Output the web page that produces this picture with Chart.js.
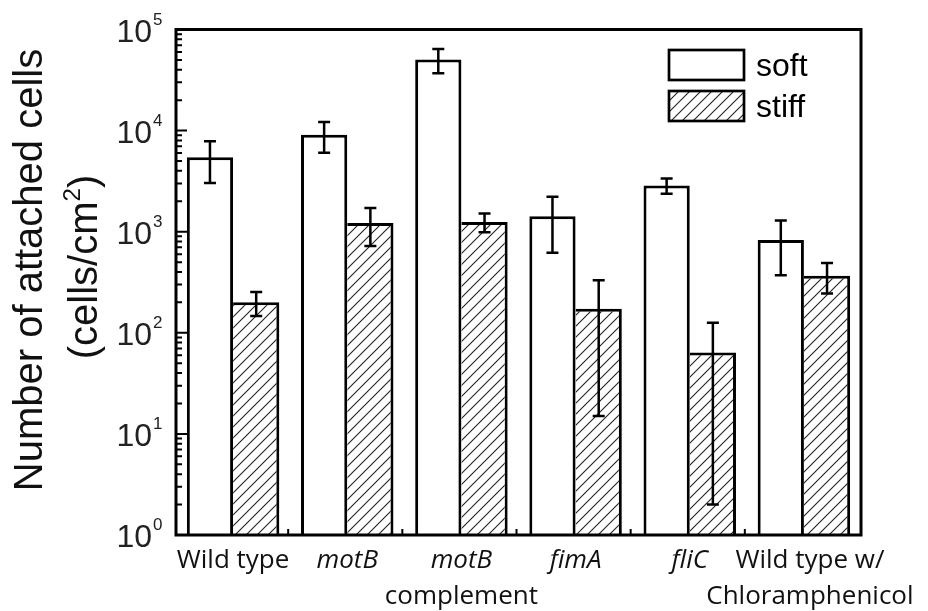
<!DOCTYPE html>
<html>
<head>
<meta charset="utf-8">
<script src="https://cdn.jsdelivr.net/npm/chart.js@4.4.1/dist/chart.umd.min.js"></script>
<style>
  body { margin: 0; background: #fff; }
  #wrap { width: 928px; height: 611px; }
</style>
</head>
<body>
<div id="wrap"><canvas id="chart" width="928" height="611"></canvas></div>
<script>
// values (cells/cm2)
const categories = [['Wild type'], ['motB'], ['motB', 'complement'], ['fimA'], ['fliC'], ['Wild type w/', 'Chloramphenicol']];
const italicNames = ['motB', 'fimA', 'fliC'];
const softValues = [5440, 9100, 50500, 1420, 2870, 830];
const softErrors = [2400, 3050, 13600, 800, 490, 460];
const stiffValues = [200, 1220, 1250, 173, 64, 367];
const stiffErrors = [53, 500, 260, 158, 62, 122];
const yExponents = [0, 1, 2, 3, 4, 5];
const seriesNames = ['soft', 'stiff'];

const SANS = '"Liberation Sans", Arial, sans-serif';
const LABEL_FONT = '"Open Sans", "Noto Sans", sans-serif';

// diagonal hatch for the stiff bars
function makeHatch() {
  const s = 11;
  const c = document.createElement('canvas');
  c.width = s; c.height = s;
  const g = c.getContext('2d');
  g.fillStyle = '#fff';
  g.fillRect(0, 0, s, s);
  g.strokeStyle = '#222';
  g.lineWidth = 1.1;
  g.beginPath();
  g.moveTo(0, s); g.lineTo(s, 0);
  g.moveTo(-1, 1); g.lineTo(1, -1);
  g.moveTo(s - 1, s + 1); g.lineTo(s + 1, s - 1);
  g.stroke();
  return document.getElementById('chart').getContext('2d').createPattern(c, 'repeat');
}
const hatch = makeHatch();

// error bars on top of each bar
const errorBars = {
  id: 'errorBars',
  afterDatasetsDraw(chart) {
    const ctx = chart.ctx;
    const y = chart.scales.y;
    ctx.save();
    ctx.strokeStyle = '#000';
    ctx.lineWidth = 2.5;
    chart.data.datasets.forEach((ds, di) => {
      const meta = chart.getDatasetMeta(di);
      meta.data.forEach((bar, i) => {
        const v = ds.data[i], e = ds.errors[i];
        const top = y.getPixelForValue(v + e);
        const bot = y.getPixelForValue(Math.max(v - e, 1));
        const x = bar.x, cap = 6;
        ctx.beginPath();
        ctx.moveTo(x, top); ctx.lineTo(x, bot);
        ctx.moveTo(x - cap, top); ctx.lineTo(x + cap, top);
        ctx.moveTo(x - cap, bot); ctx.lineTo(x + cap, bot);
        ctx.stroke();
      });
    });
    ctx.restore();
  }
};

// frame, ticks, labels, legend, axis title
const decorations = {
  id: 'decorations',
  afterDraw(chart) {
    const ctx = chart.ctx;
    const a = chart.chartArea;
    const xs = chart.scales.x, ys = chart.scales.y;
    ctx.save();
    ctx.strokeStyle = '#000';
    ctx.fillStyle = '#000';

    // box
    ctx.lineWidth = 3;
    ctx.strokeRect(a.left, a.top, a.right - a.left, a.bottom - a.top);

    // y ticks (inward)
    ctx.lineWidth = 2;
    ctx.beginPath();
    yExponents.forEach(k => {
      const base = Math.pow(10, k);
      const py = ys.getPixelForValue(base);
      ctx.moveTo(a.left, py); ctx.lineTo(a.left + 11, py);
      if (k < yExponents[yExponents.length - 1]) {
        for (let m = 2; m <= 9; m++) {
          const my = ys.getPixelForValue(m * base);
          ctx.moveTo(a.left, my); ctx.lineTo(a.left + 6, my);
        }
      }
    });
    // small ticks between groups on x
    for (let i = 0; i < categories.length - 1; i++) {
      const bx = (xs.getPixelForValue(i) + xs.getPixelForValue(i + 1)) / 2 - 2;
      ctx.moveTo(bx, a.bottom); ctx.lineTo(bx, a.bottom - 6);
    }
    ctx.stroke();

    // y tick labels 10^k
    ctx.fillStyle = '#222';
    yExponents.forEach(k => {
      const py = ys.getPixelForValue(Math.pow(10, k));
      ctx.font = '32px ' + SANS;
      ctx.textAlign = 'right';
      ctx.textBaseline = 'alphabetic';
      ctx.fillText('10', 152, py + 12);
      ctx.font = '17px ' + SANS;
      ctx.textAlign = 'left';
      ctx.fillText(String(k), 153, py - 5);
    });

    // x category labels
    ctx.fillStyle = '#111';
    ctx.textAlign = 'center';
    categories.forEach((lines, i) => {
      const cx = xs.getPixelForValue(i) + (i === categories.length - 1 ? 6 : 0);
      lines.forEach((t, j) => {
        ctx.font = (italicNames.includes(t) ? 'italic ' : '') + '26px ' + LABEL_FONT;
        ctx.fillText(t, cx, 568 + 36 * j);
      });
    });

    // legend
    chart.data.datasets.forEach((ds, i) => {
      const bx = 669, by = 50 + 41 * i, bw = 75, bh = 30;
      ctx.fillStyle = ds.backgroundColor;
      ctx.fillRect(bx, by, bw, bh);
      ctx.lineWidth = 2.7;
      ctx.strokeRect(bx, by, bw, bh);
      ctx.fillStyle = '#000';
      ctx.font = '32px ' + SANS;
      ctx.textAlign = 'left';
      ctx.fillText(seriesNames[i], 756, by + 26);
    });

    // rotated y title
    ctx.translate(0, 270);
    ctx.rotate(-Math.PI / 2);
    ctx.fillStyle = '#111';
    ctx.textAlign = 'center';
    ctx.font = '40px ' + SANS;
    ctx.fillText('Number of attached cells', 0, 42);
    const p1 = '(cells/cm', p3 = ')';
    const w1 = ctx.measureText(p1).width, w3 = ctx.measureText(p3).width;
    ctx.font = '24px ' + SANS;
    const w2 = ctx.measureText('2').width;
    let sx = -(w1 + w2 + w3) / 2 + 3;
    ctx.textAlign = 'left';
    ctx.font = '40px ' + SANS;
    ctx.fillText(p1, sx, 97);
    ctx.font = '24px ' + SANS;
    ctx.fillText('2', sx + w1, 80);
    ctx.font = '40px ' + SANS;
    ctx.fillText(p3, sx + w1 + w2, 97);
    ctx.restore();
  }
};

const ctx = document.getElementById('chart').getContext('2d');
const chart = new Chart(ctx, {
  type: 'bar',
  data: {
    labels: categories.map(c => c.join(' ')),
    datasets: [
      {
        label: seriesNames[0],
        data: softValues,
        errors: softErrors,
        backgroundColor: '#fff',
        borderColor: '#000',
        borderWidth: 3,
        categoryPercentage: 0.81,
        barPercentage: 1
      },
      {
        label: seriesNames[1],
        data: stiffValues,
        errors: stiffErrors,
        backgroundColor: hatch,
        borderColor: '#000',
        borderWidth: { top: 3, right: 3, left: 0, bottom: 0 },
        categoryPercentage: 0.81,
        barPercentage: 1
      }
    ]
  },
  options: {
    responsive: false,
    animation: false,
    layout: { padding: { left: 176, top: 29.5, right: 67, bottom: 76 } },
    scales: {
      x: { display: false },
      y: { type: 'logarithmic', min: 1, max: 100000, display: false }
    },
    plugins: {
      legend: { display: false },
      tooltip: { enabled: false }
    }
  },
  plugins: [errorBars, decorations]
});
</script>
</body>
</html>
